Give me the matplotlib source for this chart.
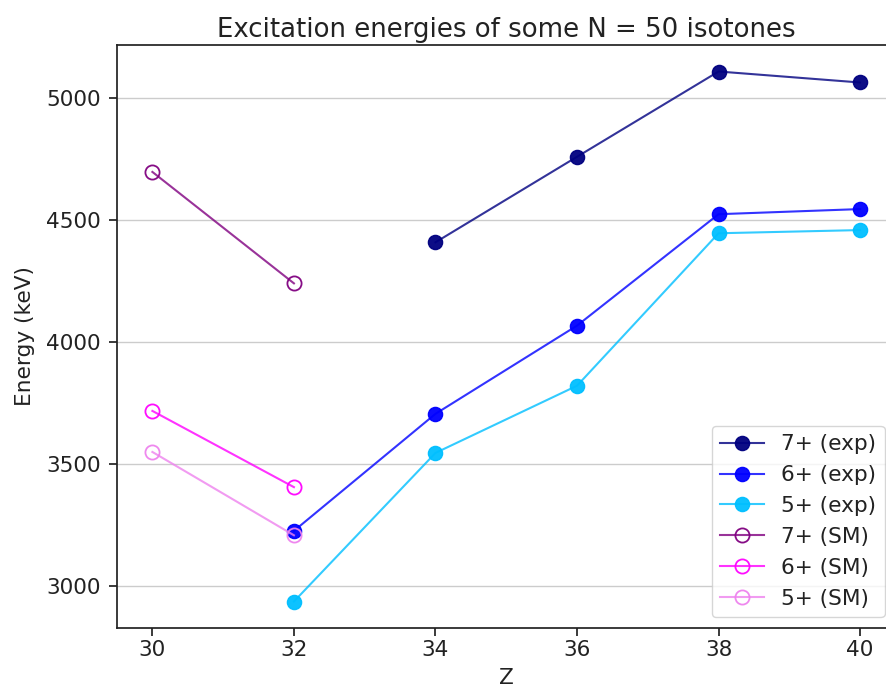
import matplotlib
matplotlib.use("Agg")
import matplotlib.pyplot as plt
from matplotlib.colors import to_rgba

Z_exp = [32, 34, 36, 38, 40]
Z_sm = [30, 32]

e7_exp_Z = [34, 36, 38, 40]
e7_exp = [4408, 4758, 5107, 5062]
e6_exp = [3227, 3706, 4067, 4523, 4544]
e5_exp = [2938, 3546, 3821, 4445, 4458]

e7_sm = [4696, 4240]
e6_sm = [3718, 3406]
e5_sm = [3550, 3209]

labels = ["7+ (exp)", "6+ (exp)", "5+ (exp)", "7+ (SM)", "6+ (SM)", "5+ (SM)"]
colors = ["navy", "blue", "deepskyblue", "purple", "magenta", "violet"]

S = 1.56
plt.rcParams['font.family'] = ['DejaVu Sans']
fig = plt.figure(figsize=(8.86, 6.90), dpi=100)
ax = fig.add_axes([117/886, 1-628/690, (895.5-117)/886, (628-45)/690])

ms = 10.2
lw = 1.5

def draw(x, y, c, lab, filled):
    ax.plot(x, y, '-o', color=to_rgba(c, 0.8), lw=lw, ms=ms,
            mfc=(to_rgba(c, 0.95) if filled else 'none'),
            mec=to_rgba(c, 0.95), mew=(1.0 if filled else 1.3), label=lab)

draw(e7_exp_Z, e7_exp, colors[0], labels[0], True)
draw(Z_exp, e6_exp, colors[1], labels[1], True)
draw(Z_exp, e5_exp, colors[2], labels[2], True)
draw(Z_sm, e7_sm, colors[3], labels[3], False)
draw(Z_sm, e6_sm, colors[4], labels[4], False)
draw(Z_sm, e5_sm, colors[5], labels[5], False)

ax.set_xticks([30, 32, 34, 36, 38, 40])
ax.set_yticks([3000, 3500, 4000, 4500, 5000])
ax.yaxis.grid(True, color='#cccccc', lw=1)
ax.set_axisbelow(True)
ax.tick_params(labelsize=10*S, length=3.5*S, width=0.8*S, colors='#222222')
ax.tick_params(axis='x', pad=3)
ax.tick_params(axis='y', pad=6)
for sp in ax.spines.values():
    sp.set_linewidth(0.8*S)
    sp.set_color('#222222')
ax.set_xlabel("Z", fontsize=10*S, color='#222222', labelpad=6)
ax.set_ylabel("Energy (keV)", fontsize=10*S, color='#222222', labelpad=8)
ax.set_title("Excitation energies of some N = 50 isotones", fontsize=12*S, color='#222222')
leg = ax.legend(loc='lower right', fontsize=10*S)
for t in leg.get_texts():
    t.set_color('#222222')

fig.savefig("out.png", dpi=100)
